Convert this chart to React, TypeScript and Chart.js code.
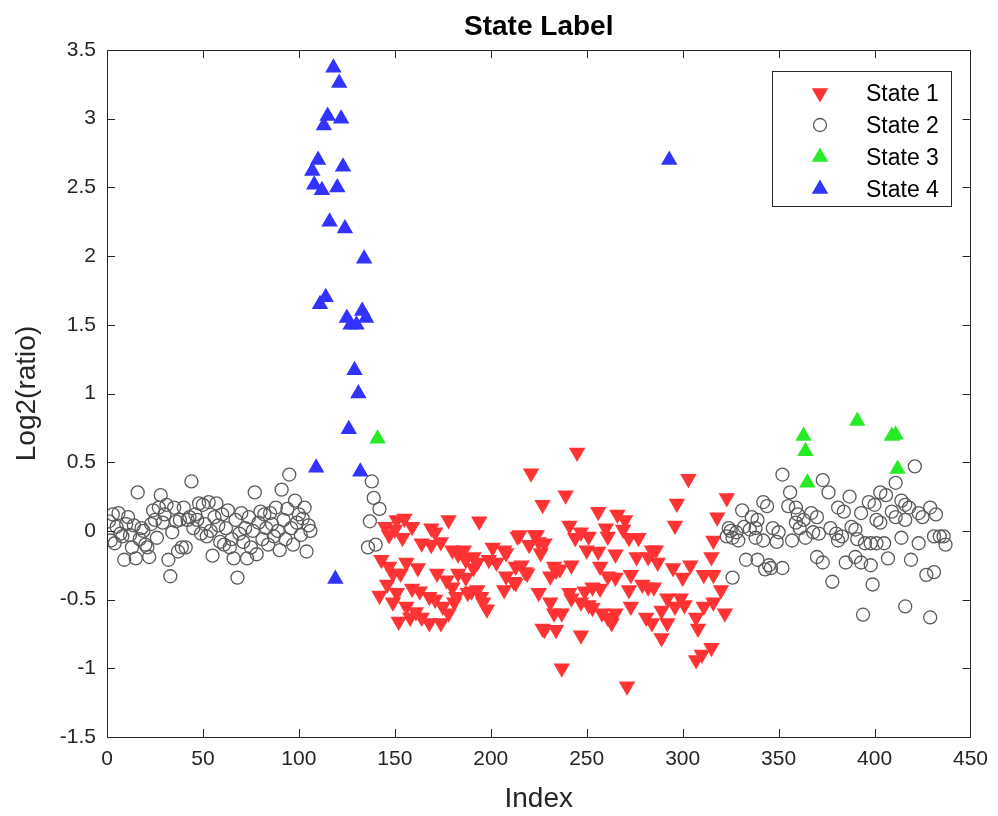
import React, { useEffect, useRef } from 'react';
import { Chart, registerables } from 'chart.js';

Chart.register(...registerables);

// ---------- data ----------
const xTickValues = [0, 50, 100, 150, 200, 250, 300, 350, 400, 450];
const yTickValues = [-1.5, -1, -0.5, 0, 0.5, 1, 1.5, 2, 2.5, 3, 3.5];
const legendLabels = ['State 1', 'State 2', 'State 3', 'State 4'];

// State 2 (grey circles), first run: index 1..106
const state2LeftStart = 1;
const state2LeftVal = [
  0.07, -0.07, 0.12, -0.09, 0.03, 0.13, -0.02, -0.04, -0.21, 0.05,
  0.1, -0.03, -0.12, 0.04, -0.2, 0.28, -0.06, 0.02, 0.0, -0.1,
  -0.12, -0.19, 0.05, 0.15, 0.08, -0.05, 0.17, 0.26, 0.06, 0.12,
  0.19, -0.21, -0.33, -0.01, 0.17, 0.07, -0.15, 0.08, -0.12, 0.17,
  -0.12, 0.08, 0.1, 0.36, 0.02, 0.12, 0.08, 0.2, -0.02, 0.19,
  0.05, -0.04, 0.21, 0.0, -0.18, 0.1, 0.2, 0.04, -0.08, 0.12,
  -0.1, 0.02, 0.15, -0.12, -0.06, -0.2, 0.08, -0.34, -0.02, 0.13,
  -0.08, 0.02, -0.2, 0.1, -0.12, 0.0, 0.28, -0.17, 0.06, 0.14,
  -0.06, 0.12, 0.02, -0.1, 0.13, 0.05, -0.04, 0.17, 0.0, -0.14,
  0.3, 0.08, -0.06, 0.16, 0.41, 0.02, -0.1, 0.22, 0.06, 0.12,
  -0.03, 0.09, 0.17, -0.15, 0.04, 0.0,
];
const state2MidIdx = [136, 137, 138, 139, 140, 142];
const state2MidVal = [-0.12, 0.07, 0.36, 0.24, -0.1, 0.16];
const state2RightIdx = [
  323, 324, 325, 326, 326, 328, 329, 331, 332, 333, 335, 336, 338, 338, 339, 339,
  342, 342, 343, 344, 345, 346, 347, 349, 350, 352, 352, 355, 356, 357, 359, 359,
  360, 361, 363, 364, 367, 368, 370, 370, 371, 373, 373, 376, 377, 378, 380, 381,
  381, 383, 384, 385, 387, 388, 390, 390, 391, 393, 393, 394, 395, 397, 398, 398,
  399, 400, 401, 401, 403, 403, 405, 406, 407, 409, 411, 411, 414, 414, 416, 416,
  416, 418, 419, 421, 423, 423, 425, 427, 429, 429, 431, 431, 432, 434, 436, 437,
];
const state2RightVal = [
  -0.04, 0.02, 0.0, -0.34, -0.05, -0.01, -0.07, 0.15, 0.03, -0.21, 0.01, 0.1, 0.02, -0.05, 0.08, -0.21,
  0.21, -0.07, -0.28, 0.18, -0.25, -0.27, 0.02, -0.08, -0.01, 0.41, -0.27, 0.18, 0.28, -0.07, 0.17, 0.06,
  0.12, 0.02, 0.08, -0.05, 0.13, -0.01, 0.1, -0.19, -0.02, -0.23, 0.37, 0.28, 0.02, -0.37, -0.02, 0.17,
  -0.07, -0.04, 0.14, -0.23, 0.25, 0.03, -0.19, 0.01, -0.06, 0.13, -0.23, -0.61, -0.09, 0.21, -0.09, -0.25,
  -0.39, 0.19, 0.08, -0.09, 0.28, 0.06, -0.09, 0.26, -0.2, 0.14, 0.35, 0.1, 0.22, -0.05, 0.19, 0.08,
  -0.55, 0.17, -0.21, 0.47, 0.13, -0.09, 0.1, -0.32, 0.17, -0.63, -0.3, -0.04, 0.12, -0.04, -0.04, -0.1,
];

// State 1 (red, downward triangles)
const state1Idx = [
  142, 143, 145, 146, 147, 147, 149, 149, 150, 151, 151, 152, 153, 154, 155, 156,
  156, 158, 159, 159, 161, 162, 163, 164, 164, 168, 168, 169, 169, 171, 171, 172,
  174, 174, 175, 177, 178, 178, 180, 180, 181, 182, 183, 187, 183, 186, 187, 188,
  190, 191, 191, 193, 193, 194, 195, 196, 198, 199, 201, 203, 207, 207, 208, 208,
  212, 213, 213, 214, 215, 216, 218, 219, 220, 221, 223, 224, 225, 225, 226, 227,
  227, 228, 228, 231, 231, 233, 233, 234, 234, 236, 237, 237, 239, 241, 241, 242,
  242, 244, 245, 247, 247, 247, 249, 250, 251, 251, 253, 253, 256, 256, 257, 257,
  258, 260, 261, 261, 261, 263, 265, 265, 265, 266, 269, 270, 271, 272, 272, 273,
  273, 276, 277, 279, 281, 282, 284, 284, 282, 285, 286, 287, 289, 289, 292, 292,
  295, 296, 296, 297, 299, 300, 301, 303, 304, 307, 307, 308, 310, 311, 311, 315,
  315, 316, 316, 316, 318, 320, 322, 323,
];
const state1Val = [
  -0.47, -0.21, 0.03, -0.39, -0.03, -0.26, -0.31, -0.52, 0.01, 0.08, -0.45, -0.66, -0.31, -0.05, 0.09, -0.23,
  -0.55, -0.63, 0.03, -0.42, -0.59, -0.27, -0.44, -0.09, -0.63, -0.48, -0.67, 0.02, -0.1, -0.01, -0.5, -0.31,
  -0.08, -0.67, -0.55, -0.36, 0.08, -0.6, -0.14, -0.41, -0.52, -0.48, -0.17, -0.21, -0.31, -0.14, -0.34, -0.45,
  -0.44, -0.27, -0.19, -0.23, -0.43, 0.07, -0.48, -0.52, -0.57, -0.21, -0.12, -0.23, -0.14, -0.43, -0.16, -0.33,
  -0.37, -0.26, -0.38, -0.04, -0.03, -0.25, -0.3, -0.31, -0.1, 0.42, -0.03, -0.03, -0.08, -0.45, -0.16, 0.19,
  -0.71, -0.09, -0.72, -0.33, -0.52, -0.26, -0.6, -0.29, -0.72, -0.28, -0.6, -1.0, 0.26, 0.04, -0.45, -0.25,
  -0.49, -0.05, 0.57, -0.01, -0.52, -0.76, -0.44, -0.14, -0.04, -0.54, -0.41, -0.56, 0.14, -0.15, -0.26, -0.42,
  -0.6, 0.02, -0.04, -0.33, -0.63, -0.67, -0.17, -0.34, -0.6, 0.12, 0.01, 0.08, -1.13, -0.05, -0.43, -0.32,
  -0.55, -0.19, -0.05, -0.39, -0.63, -0.41, -0.14, -0.67, -0.19, -0.41, -0.14, -0.23, -0.58, -0.78, -0.49, -0.67,
  -0.27, 0.04, -0.55, 0.2, -0.49, -0.34, -0.54, 0.38, -0.25, -0.63, -0.94, -0.71, -0.9, -0.32, -0.55, -0.19,
  -0.85, -0.07, -0.32, -0.52, 0.1, -0.43, -0.6, 0.24,
];

// State 3 (green, upward triangles)
const state3Idx = [141, 363, 364, 365, 391, 409, 411, 412];
const state3Val = [0.67, 0.69, 0.58, 0.35, 0.8, 0.69, 0.7, 0.45];

// State 4 (blue, upward triangles)
const state4Idx = [
  107, 108, 109, 110, 111, 112, 113, 114, 115, 116, 118, 119, 120, 121, 122, 123,
  124, 125, 126, 127, 129, 130, 131, 132, 133, 134, 135, 293,
];
const state4Val = [
  2.62, 2.52, 0.46, 2.7, 1.65, 2.48, 2.95, 1.7, 3.02, 2.25, 3.37, -0.35, 2.5, 3.26, 3.0, 2.65,
  2.2, 1.55, 0.74, 1.5, 1.17, 1.5, 1.0, 0.43, 1.6, 1.98, 1.55, 2.7,
];

// ---------- styles ----------
const RED = 'rgb(255,51,51)';
const GREY = 'rgb(90,90,90)';
const GREEN = 'rgb(40,235,40)';
const BLUE = 'rgb(51,51,255)';
const AXIS = '#262626';
const FONT = "'Liberation Sans', Arial, Helvetica, sans-serif";
const TRI_R = 9.5;
const CIRC_R = 6.5;

const toPts = (xs: number[], ys: number[]) => xs.map((x, i) => ({ x, y: ys[i] }));

function drawTri(ctx: CanvasRenderingContext2D, x: number, y: number, r: number, down: boolean, color: string) {
  const s = down ? -1 : 1;
  ctx.beginPath();
  ctx.moveTo(x, y - s * r);
  ctx.lineTo(x + 0.866 * r, y + s * 0.5 * r);
  ctx.lineTo(x - 0.866 * r, y + s * 0.5 * r);
  ctx.closePath();
  ctx.fillStyle = color;
  ctx.fill();
}

const boxPlugin = {
  id: 'matlabBox',
  afterDatasetsDraw(chart: any) {
    const { ctx, chartArea, scales } = chart;
    const { left, right, top, bottom } = chartArea;
    const xs = scales.x;
    const ys = scales.y;
    ctx.save();
    ctx.strokeStyle = AXIS;
    ctx.lineWidth = 1;
    ctx.beginPath();
    ctx.rect(Math.round(left) + 0.5, Math.round(top) + 0.5, Math.round(right - left), Math.round(bottom - top));
    const tl = 8;
    xTickValues.forEach((v) => {
      const px = Math.round(xs.getPixelForValue(v)) + 0.5;
      ctx.moveTo(px, bottom);
      ctx.lineTo(px, bottom - tl);
      ctx.moveTo(px, top);
      ctx.lineTo(px, top + tl);
    });
    yTickValues.forEach((v) => {
      const py = Math.round(ys.getPixelForValue(v)) + 0.5;
      ctx.moveTo(left, py);
      ctx.lineTo(left + tl, py);
      ctx.moveTo(right, py);
      ctx.lineTo(right - tl, py);
    });
    ctx.stroke();

    // legend
    const lx = 772.5, ly = 71.5, lw = 179, lh = 135;
    ctx.fillStyle = '#ffffff';
    ctx.fillRect(lx, ly, lw, lh);
    ctx.strokeStyle = AXIS;
    ctx.strokeRect(lx, ly, lw, lh);
    const rows = [93, 125, 157, 189];
    const mx = 820;
    drawTri(ctx, mx, rows[0], TRI_R, true, RED);
    ctx.beginPath();
    ctx.arc(mx, rows[1], CIRC_R, 0, Math.PI * 2);
    ctx.strokeStyle = GREY;
    ctx.lineWidth = 1.3;
    ctx.stroke();
    drawTri(ctx, mx, rows[2], TRI_R, false, GREEN);
    drawTri(ctx, mx, rows[3], TRI_R, false, BLUE);
    ctx.fillStyle = '#000000';
    ctx.font = `23px ${FONT}`;
    ctx.textBaseline = 'middle';
    ctx.textAlign = 'left';
    legendLabels.forEach((t, i) => ctx.fillText(t, 866, rows[i] + 2));
    ctx.restore();
  },
};

export default function App() {
  const ref = useRef<HTMLCanvasElement | null>(null);

  useEffect(() => {
    if (!ref.current) return;
    const chart = new Chart(ref.current, {
      type: 'scatter',
      data: {
        datasets: [
          {
            label: legendLabels[3],
            data: toPts(state4Idx, state4Val),
            pointStyle: 'triangle',
            pointRadius: TRI_R,
            backgroundColor: BLUE,
            borderColor: BLUE,
            borderWidth: 0,
          },
          {
            label: legendLabels[2],
            data: toPts(state3Idx, state3Val),
            pointStyle: 'triangle',
            pointRadius: TRI_R,
            backgroundColor: GREEN,
            borderColor: GREEN,
            borderWidth: 0,
          },
          {
            label: legendLabels[1],
            data: [
              ...state2LeftVal.map((y, i) => ({ x: state2LeftStart + i, y })),
              ...toPts(state2MidIdx, state2MidVal),
              ...toPts(state2RightIdx, state2RightVal),
            ],
            pointStyle: 'circle',
            pointRadius: CIRC_R,
            backgroundColor: 'rgba(0,0,0,0)',
            borderColor: GREY,
            borderWidth: 1.3,
          },
          {
            label: legendLabels[0],
            data: toPts(state1Idx, state1Val),
            pointStyle: 'triangle',
            rotation: 180,
            pointRadius: TRI_R,
            backgroundColor: RED,
            borderColor: RED,
            borderWidth: 0,
          },
        ],
      },
      options: {
        responsive: false,
        animation: false,
        events: [],
        devicePixelRatio: 1,
        layout: { padding: { left: 0, right: 26, top: 0, bottom: 0 } },
        plugins: {
          legend: { display: false },
          tooltip: { enabled: false },
          title: {
            display: true,
            fullSize: false,
            text: 'State Label',
            color: '#000000',
            font: { family: FONT, size: 28, weight: 'bold', lineHeight: 1.2 },
            padding: { top: 10, bottom: 6.4 },
          },
        },
        scales: {
          x: {
            type: 'linear',
            min: 0,
            max: 450,
            afterFit: (s: any) => { s.height = 79; },
            afterBuildTicks: (s: any) => { s.ticks = xTickValues.map((v) => ({ value: v })); },
            grid: { display: false, drawTicks: false },
            border: { display: false },
            ticks: { color: '#262626', font: { family: FONT, size: 21 }, padding: 10, maxRotation: 0, callback: (v: any) => `${v}` },
            title: {
              display: true,
              text: 'Index',
              color: '#262626',
              font: { family: FONT, size: 28, lineHeight: 1.2 },
              padding: { top: 0, bottom: 0 },
            },
          },
          y: {
            type: 'linear',
            min: -1.5,
            max: 3.5,
            afterFit: (s: any) => { s.width = 107; },
            afterBuildTicks: (s: any) => { s.ticks = yTickValues.map((v) => ({ value: v })); },
            grid: { display: false, drawTicks: false },
            border: { display: false },
            ticks: { color: '#262626', font: { family: FONT, size: 21 }, padding: 11, callback: (v: any) => `${v}` },
            title: {
              display: true,
              text: 'Log2(ratio)',
              color: '#262626',
              font: { family: FONT, size: 28, lineHeight: 1.2 },
              padding: { top: 10, bottom: 0 },
            },
          },
        },
      },
      plugins: [boxPlugin],
    });
    return () => chart.destroy();
  }, []);

  return (
    <div style={{ position: 'fixed', left: 0, top: 0, width: 998, height: 816, background: '#ffffff' }}>
      <canvas ref={ref} width={998} height={816} style={{ width: 998, height: 816 }} />
    </div>
  );
}
